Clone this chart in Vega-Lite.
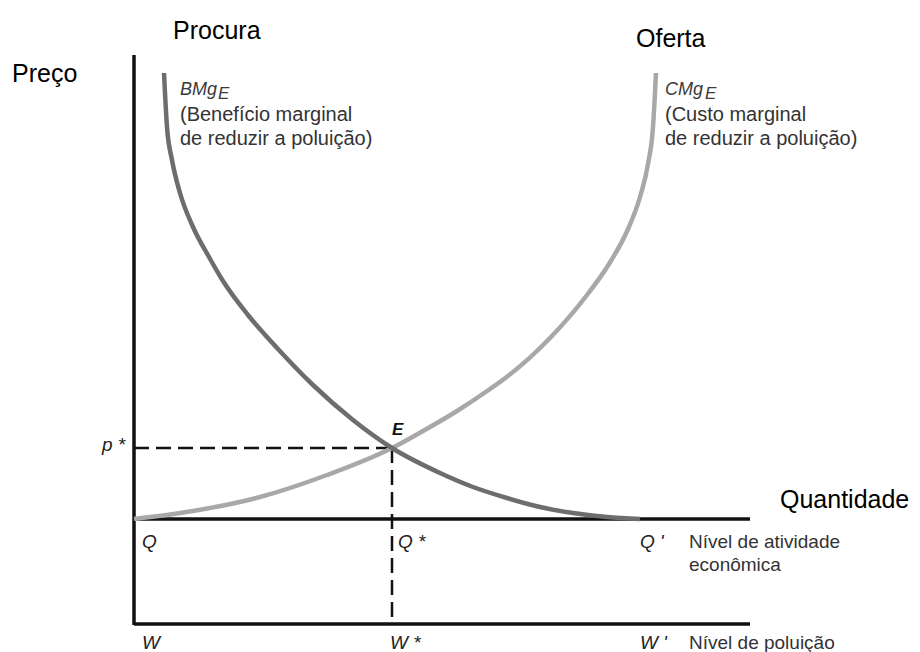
{
  "$schema": "https://vega.github.io/schema/vega-lite/v6.json",
  "width": 920,
  "height": 652,
  "autosize": {"type": "none"},
  "padding": 0,
  "background": "white",
  "config": {"view": {"stroke": null}, "font": "Liberation Sans"},
  "encoding": {
    "x": {"field": "x", "type": "quantitative", "scale": {"domain": [-134, 786], "nice": false, "zero": false}, "axis": null},
    "y": {"field": "y", "type": "quantitative", "scale": {"domain": [-133, 519], "nice": false, "zero": false}, "axis": null}
  },
  "layer": [
    {
      "data": {"values": [
        {"x": 0, "y": 464, "x2": 0, "y2": -106},
        {"x": 0, "y": 0, "x2": 616, "y2": 0},
        {"x": 0, "y": -105, "x2": 616, "y2": -105}
      ]},
      "mark": {"type": "rule", "color": "#111111", "strokeWidth": 3.5},
      "encoding": {"x2": {"field": "x2"}, "y2": {"field": "y2"}}
    },
    {
      "data": {"values": [
        {"x": 0, "y": 71, "x2": 258, "y2": 71},
        {"x": 258, "y": 71, "x2": 258, "y2": -105}
      ]},
      "mark": {"type": "rule", "color": "#111111", "strokeWidth": 2.5, "strokeDash": [15, 7]},
      "encoding": {"x2": {"field": "x2"}, "y2": {"field": "y2"}}
    },
    {
      "data": {"values": [
        {"x": 0, "y": 0}, {"x": 59, "y": 8}, {"x": 126, "y": 22}, {"x": 193, "y": 44},
        {"x": 258, "y": 71}, {"x": 289, "y": 88}, {"x": 323, "y": 108}, {"x": 356, "y": 130},
        {"x": 374, "y": 143}, {"x": 416, "y": 181}, {"x": 453, "y": 224}, {"x": 475, "y": 255},
        {"x": 494, "y": 290}, {"x": 506, "y": 322}, {"x": 514, "y": 355}, {"x": 519, "y": 392},
        {"x": 522, "y": 446}
      ]},
      "mark": {"type": "line", "color": "#a8a8a8", "strokeWidth": 4.5, "interpolate": "monotone"},
      "encoding": {}
    },
    {
      "data": {"values": [
        {"x": 30, "y": 446}, {"x": 33, "y": 392}, {"x": 38, "y": 359}, {"x": 46, "y": 326},
        {"x": 59, "y": 292}, {"x": 75, "y": 262}, {"x": 89, "y": 238}, {"x": 114, "y": 204},
        {"x": 144, "y": 170}, {"x": 179, "y": 134}, {"x": 219, "y": 99}, {"x": 258, "y": 71},
        {"x": 306, "y": 46}, {"x": 339, "y": 32}, {"x": 373, "y": 21}, {"x": 406, "y": 12},
        {"x": 439, "y": 6}, {"x": 473, "y": 2}, {"x": 506, "y": 0}
      ]},
      "mark": {"type": "line", "color": "#6d6d6d", "strokeWidth": 4.5, "interpolate": "monotone"},
      "encoding": {}
    },
    {
      "data": {"values": [
        {"x": 39, "y": 480, "text": "Procura"},
        {"x": -122, "y": 437, "text": "Preço"},
        {"x": 502, "y": 472, "text": "Oferta"},
        {"x": 646, "y": 11, "text": "Quantidade"}
      ]},
      "mark": {"type": "text", "align": "left", "baseline": "alphabetic", "fontSize": 25, "color": "#000000"},
      "encoding": {"text": {"field": "text"}}
    },
    {
      "data": {"values": [
        {"x": 46, "y": 424, "text": "BMg"},
        {"x": 531, "y": 424, "text": "CMg"}
      ]},
      "mark": {"type": "text", "align": "left", "baseline": "alphabetic", "fontSize": 18, "fontStyle": "italic", "color": "#3a3a3a"},
      "encoding": {"text": {"field": "text"}}
    },
    {
      "data": {"values": [
        {"x": 84, "y": 420, "text": "E"},
        {"x": 571, "y": 420, "text": "E"}
      ]},
      "mark": {"type": "text", "align": "left", "baseline": "alphabetic", "fontSize": 17, "fontStyle": "italic", "color": "#3a3a3a"},
      "encoding": {"text": {"field": "text"}}
    },
    {
      "data": {"values": [
        {"x": 46, "y": 398, "text": "(Benefício marginal"},
        {"x": 46, "y": 374, "text": "de reduzir a poluição)"},
        {"x": 531, "y": 398, "text": "(Custo marginal"},
        {"x": 531, "y": 374, "text": "de reduzir a poluição)"}
      ]},
      "mark": {"type": "text", "align": "left", "baseline": "alphabetic", "fontSize": 20, "color": "#333333"},
      "encoding": {"text": {"field": "text"}}
    },
    {
      "data": {"values": [
        {"x": 555, "y": -29, "text": "Nível de atividade"},
        {"x": 555, "y": -52, "text": "econômica"},
        {"x": 555, "y": -130, "text": "Nível de poluição"}
      ]},
      "mark": {"type": "text", "align": "left", "baseline": "alphabetic", "fontSize": 19, "color": "#333333"},
      "encoding": {"text": {"field": "text"}}
    },
    {
      "data": {"values": [
        {"x": -32, "y": 68, "text": "p *"},
        {"x": 8, "y": -29, "text": "Q"},
        {"x": 264, "y": -29, "text": "Q *"},
        {"x": 506, "y": -29, "text": "Q '"},
        {"x": 8, "y": -130, "text": "W"},
        {"x": 256, "y": -130, "text": "W *"},
        {"x": 506, "y": -130, "text": "W '"}
      ]},
      "mark": {"type": "text", "align": "left", "baseline": "alphabetic", "fontSize": 19, "fontStyle": "italic", "color": "#222222"},
      "encoding": {"text": {"field": "text"}}
    },
    {
      "data": {"values": [
        {"x": 258, "y": 84, "text": "E"}
      ]},
      "mark": {"type": "text", "align": "left", "baseline": "alphabetic", "fontSize": 17, "fontStyle": "italic", "fontWeight": "bold", "color": "#111111"},
      "encoding": {"text": {"field": "text"}}
    }
  ]
}
